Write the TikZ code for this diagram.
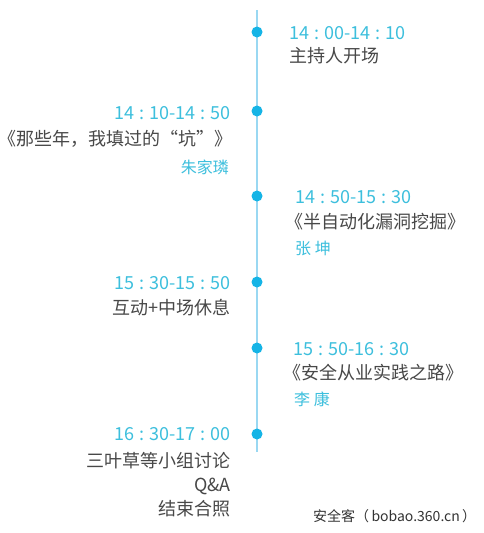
\documentclass[tikz,border=0pt]{standalone}
\usepackage{fontspec}
\setmainfont{Noto Sans CJK SC}
\newfontfamily\cjk{Noto Sans CJK SC}
\definecolor{linec}{HTML}{9AD8F2}
\definecolor{dotc}{HTML}{15B4E6}
\definecolor{timec}{HTML}{3DBFDD}
\definecolor{textc}{HTML}{484848}
\definecolor{wmc}{HTML}{333333}
\newcommand{\tcol}{\hspace{0.28em}:\hspace{0.28em}}
\begin{document}
\begin{tikzpicture}[x=1pt,y=-1pt,
  timetxt/.style={inner sep=0pt,text=timec,font=\cjk\fontsize{18}{21}\selectfont},
  titletxt/.style={inner sep=0pt,text=textc,font=\cjk\fontsize{18}{22}\selectfont},
  nametxt/.style={inner sep=0pt,text=timec,font=\cjk\fontsize{16}{20}\selectfont},
  dotn/.style={circle,fill=dotc,minimum size=11pt,inner sep=0pt}]
\useasboundingbox (0,0) rectangle (484,533);
\fill[white] (0,0) rectangle (484,533);
\coordinate (top) at (257,10);
\coordinate (bot) at (257,452);
\draw[linec,line width=2.6pt] (top) -- (bot);
\node[dotn] (d1) at (257,32) {};
\node[dotn] (d2) at (257,111) {};
\node[dotn] (d3) at (257,196) {};
\node[dotn] (d4) at (257,282) {};
\node[dotn] (d5) at (257,348) {};
\node[dotn] (d6) at (257,434) {};
% 1
\node[timetxt,anchor=west] (t1) at (289,33) {14\tcol 00-14\tcol 10};
\node[titletxt,anchor=west] (s1) at (289,56) {主持人开场};
% 2
\node[timetxt,anchor=east] (t2) at (231,113) {14\tcol 10-14\tcol 50};
\node[titletxt,anchor=east] (s2) at (233,139) {《那些年，我填过的“坑”》};
\node[nametxt,anchor=east] (n2) at (229,167) {朱家璘};
% 3
\node[timetxt,anchor=west] (t3) at (295,197) {14\tcol 50-15\tcol 30};
\node[titletxt,anchor=west] (s3) at (285,222) {《半自动化漏洞挖掘》};
\node[nametxt,anchor=west] (n3) at (295,248) {张 坤};
% 4
\node[timetxt,anchor=east] (t4) at (231,283) {15\tcol 30-15\tcol 50};
\node[titletxt,anchor=east] (s4) at (231,308) {互动+中场休息};
% 5
\node[timetxt,anchor=west] (t5) at (293,349) {15\tcol 50-16\tcol 30};
\node[titletxt,anchor=west] (s5) at (283,373) {《安全从业实践之路》};
\node[nametxt,anchor=west] (n5) at (294,399) {李 康};
% 6
\node[timetxt,anchor=east] (t6) at (231,434) {16\tcol 30-17\tcol 00};
\node[titletxt,anchor=east] (s6a) at (231,461) {三叶草等小组讨论};
\node[titletxt,anchor=east] (s6b) at (231,486) {Q\&A};
\node[titletxt,anchor=east] (s6c) at (231,509) {结束合照};
% watermark
\node[inner sep=0pt,anchor=west,text=wmc,font=\cjk\fontsize{14}{16}\selectfont] (wm) at (313,516) {安全客（\,bobao.360.cn\,）};
\end{tikzpicture}
\end{document}
